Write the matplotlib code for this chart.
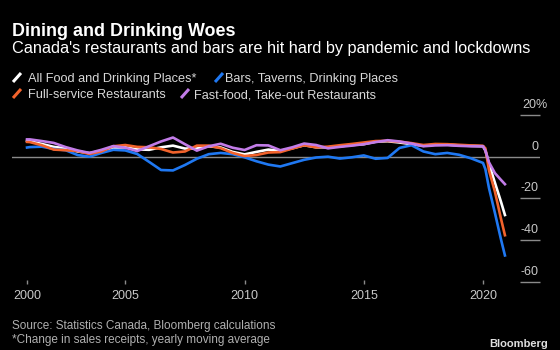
import matplotlib
matplotlib.use("Agg")
import matplotlib.pyplot as plt
import matplotlib.transforms as mtransforms
from matplotlib.lines import Line2D

plt.rcParams["font.family"] = ["Liberation Sans", "DejaVu Sans"]

# time axis (fractional years), half-yearly readings plus the 2020 drop
years = [2000.88, 2001.0, 2001.5, 2002.0, 2002.5, 2003.0, 2003.5, 2004.0, 2004.5,
         2005.0, 2005.5, 2006.0, 2006.5, 2007.0, 2007.5, 2008.0, 2008.5, 2009.0,
         2009.5, 2010.0, 2010.5, 2011.0, 2011.5, 2012.0, 2012.5, 2013.0, 2013.5,
         2014.0, 2014.5, 2015.0, 2015.5, 2016.0, 2016.5, 2017.0, 2017.5, 2018.0,
         2018.5, 2019.0, 2019.5, 2020.0, 2020.1, 2020.25, 2020.5, 2020.75, 2020.92]

all_food = [7.6, 7.4, 6.1, 4.7, 4.0, 2.5, 1.7, 2.8, 4.3, 4.5, 3.5, 3.3, 4.5, 5.3,
            3.9, 3.9, 5.0, 4.4, 2.3, 1.1, 2.3, 3.4, 2.8, 4.0, 5.5, 4.5, 4.5, 5.0,
            5.6, 6.0, 7.2, 7.4, 6.8, 6.0, 5.2, 5.8, 5.8, 5.4, 5.2, 5.0, 3.0, -3.5,
            -12.5, -21.5, -28.0]
bars = [4.4, 4.6, 4.8, 3.7, 3.1, 0.8, 0.0, 1.8, 3.3, 3.0, 1.3, -2.5, -6.4, -6.6,
        -4.0, -1.0, 1.2, 1.8, 1.2, -0.3, -2.2, -3.8, -4.7, -3.1, -1.5, -0.4, 0.0,
        -0.9, -0.3, 0.6, -1.0, -0.6, 4.2, 5.5, 2.5, 1.2, 1.8, 0.9, -0.8, -3.0,
        -6.0, -15.0, -27.0, -39.5, -47.4]
full_service = [7.1, 7.0, 5.5, 3.4, 3.1, 2.7, 1.3, 2.5, 5.0, 5.6, 4.7, 4.5, 3.7,
                2.0, 2.5, 5.3, 5.3, 4.1, 1.8, 0.3, 0.8, 2.0, 2.2, 3.9, 5.5, 4.5,
                4.8, 5.5, 6.1, 6.8, 7.5, 7.6, 7.2, 6.5, 5.6, 6.1, 6.0, 5.7, 5.4,
                5.2, 4.0, -6.5, -16.8, -29.6, -37.7]
fast_food = [8.3, 8.3, 7.5, 6.6, 4.6, 3.0, 1.8, 3.3, 5.1, 4.3, 2.7, 5.0, 7.3, 9.2,
             6.0, 2.9, 5.0, 6.2, 4.3, 3.2, 5.5, 5.4, 3.1, 4.5, 6.3, 5.6, 4.0, 4.7,
             5.3, 6.0, 7.0, 7.9, 7.3, 6.3, 5.0, 5.4, 5.5, 5.2, 5.0, 5.0, 3.0, -2.7,
             -7.9, -11.1, -13.2]

series_labels = ["All Food and Drinking Places*", "Bars, Taverns, Drinking Places",
                 "Full-service Restaurants", "Fast-food, Take-out Restaurants"]
colors = ["#ffffff", "#1f78f2", "#f2632c", "#c27ce8"]

x_tick_pos = [2000.88, 2005, 2010, 2015, 2020]
x_tick_labels = ["2000", "2005", "2010", "2015", "2020"]
y_ticks = [20, -20, -40, -60]
y_tick_labels = ["20%", "-20", "-40", "-60"]

W, H = 560, 350


def fx(p):
    return p / W


def fy(p):
    return 1 - p / H


fig = plt.figure(figsize=(5.6, 3.5), dpi=100, facecolor="black")
ax = fig.add_axes([fx(12), fy(284), fx(528), (284 - 100) / H])
ax.set_facecolor("black")
for s in ax.spines.values():
    s.set_visible(False)

ax.axhline(0, color="#8a8a8a", lw=1, zorder=1)
for vals, c in zip([all_food, bars, full_service, fast_food], colors):
    ax.plot(years, vals, color=c, lw=1.9, solid_joinstyle="round", zorder=3)

ax.set_xlim(2000.25, 2022.39)
ax.set_ylim(-61.1, 27.2)

ax.set_xticks(x_tick_pos, x_tick_labels)
ax.tick_params(axis="x", direction="in", length=3, width=1, color="#8a8a8a",
               labelcolor="#c8c8c8", labelsize=9, pad=4.5)
ax.set_yticks(y_ticks)
ax.tick_params(axis="y", direction="in", length=14.4, width=1, color="#8a8a8a",
               left=False, right=True, labelleft=False, labelright=False)

trans = mtransforms.blended_transform_factory(ax.transAxes, ax.transData)
for v, lab in zip([0] + y_ticks, ["0"] + y_tick_labels):
    dx = 5.2 if lab.endswith("%") else -1
    ax.annotate(lab, (1.0, v), xycoords=trans, xytext=(dx, 5), textcoords="offset points",
                ha="right", va="baseline", color="#c8c8c8", fontsize=9)

# title block
fig.text(fx(12), fy(35.5), "Dining and Drinking Woes", color="white", fontsize=12.9,
         fontweight="bold", va="baseline")
fig.text(fx(12), fy(53.5), "Canada's restaurants and bars are hit hard by pandemic and lockdowns",
         color="white", fontsize=11.7, va="baseline")

# legend rows
legend_items = [(13, 28, 82, 0), (215, 225, 82, 1), (13, 28, 98, 2), (181, 194, 98, 3)]
for icon_x, text_x, base_y, i in legend_items:
    fig.add_artist(Line2D([fx(icon_x), fx(icon_x + 8)], [fy(base_y), fy(base_y - 9)],
                          transform=fig.transFigure, color=colors[i], lw=2.2,
                          solid_capstyle="butt"))
    fig.text(fx(text_x), fy(base_y), series_labels[i], color="#d8d8d8", fontsize=9.2,
             va="baseline")

fig.text(fx(12), fy(329.5), "Source: Statistics Canada, Bloomberg calculations",
         color="#b0b0b0", fontsize=8.5, va="baseline")
fig.text(fx(12), fy(343), "*Change in sales receipts, yearly moving average",
         color="#b0b0b0", fontsize=8.5, va="baseline")
fig.text(fx(548), fy(347), "Bloomberg", color="#e0e0e0", fontsize=8, fontweight="bold",
         ha="right", va="baseline")

fig.savefig("out.png", dpi=100, facecolor="black")
